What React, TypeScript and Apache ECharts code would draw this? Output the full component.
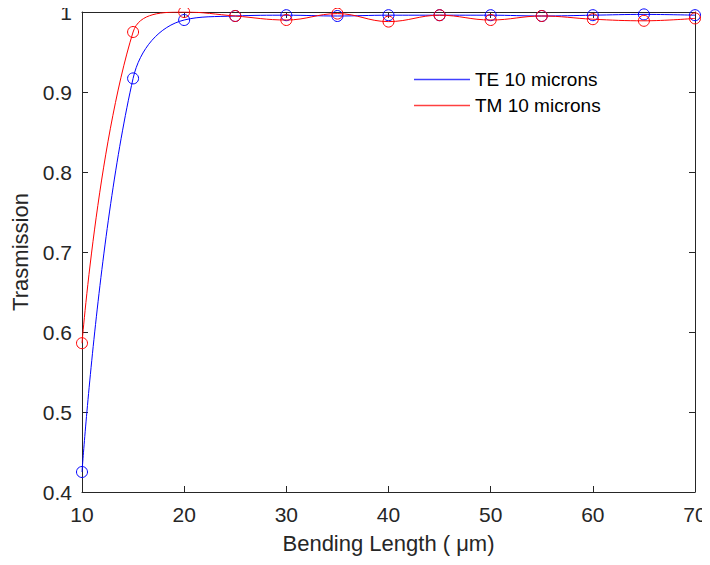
import React, { useEffect, useRef } from "react";
import * as echarts from "echarts";

const lengths = [10, 15, 20, 25, 30, 35, 40, 45, 50, 55, 60, 65, 70];
const teValues = [0.425, 0.917, 0.99, 0.995, 0.996, 0.995, 0.996, 0.996, 0.996, 0.995, 0.996, 0.997, 0.996];
const tmValues = [0.586, 0.975, 1.0, 0.995, 0.99, 0.998, 0.988, 0.996, 0.99, 0.995, 0.991, 0.989, 0.992];
const seriesNames = ["TE 10 microns", "TM 10 microns"];
const seriesColors = ["#0000ff", "#ff0000"];
const xTitle = "Bending Length ( μm)";
const yTitle = "Trasmission";

export default function App() {
  const ref = useRef<HTMLDivElement>(null);
  useEffect(() => {
    const chart = echarts.init(ref.current!, null, { renderer: "svg" });
    const font = "Liberation Sans, Arial, sans-serif";
    const axisColor = "#262626";
    const mk = (vals: number[]) => lengths.map((x, i) => [x, vals[i]]);
    chart.setOption({
      animation: false,
      grid: { left: 82, right: 15, top: 12, bottom: 73, containLabel: false },
      legend: {
        left: 409,
        top: 65,
        orient: "vertical",
        itemGap: 7,
        itemWidth: 56,
        itemHeight: 1.5,
        icon: "rect",
        textStyle: { fontFamily: font, fontSize: 19, color: "#000" },
        data: seriesNames.map((n, i) => ({
          name: n,
          icon: "rect",
          itemStyle: { color: seriesColors[i], borderWidth: 0, opacity: 0.75 },
        })),
      },
      xAxis: [
        {
          type: "value",
          min: 10,
          max: 70,
          interval: 10,
          name: xTitle,
          nameLocation: "middle",
          nameGap: 40,
          nameTextStyle: { fontFamily: font, fontSize: 22, color: axisColor },
          axisLine: { lineStyle: { color: axisColor, width: 1 } },
          axisTick: { inside: true, length: 6, lineStyle: { color: axisColor } },
          axisLabel: { fontFamily: font, fontSize: 21, color: axisColor, margin: 12 },
          splitLine: { show: false },
        },
        {
          type: "value",
          position: "top",
          min: 10,
          max: 70,
          interval: 10,
          axisLine: { show: true, lineStyle: { color: axisColor, width: 1 } },
          axisTick: { inside: true, length: 6, lineStyle: { color: axisColor } },
          axisLabel: { show: false },
          splitLine: { show: false },
        },
      ],
      yAxis: [
        {
          type: "value",
          min: 0.4,
          max: 1,
          interval: 0.1,
          name: yTitle,
          nameLocation: "middle",
          nameGap: 50,
          nameTextStyle: { fontFamily: font, fontSize: 22, color: axisColor },
          axisLine: { show: true, lineStyle: { color: axisColor, width: 1 } },
          axisTick: { show: true, inside: true, length: 6, lineStyle: { color: axisColor } },
          axisLabel: {
            fontFamily: font,
            fontSize: 21,
            color: axisColor,
            margin: 10,
            formatter: (v: number) => String(Math.round(v * 10) / 10),
          },
          splitLine: { show: false },
        },
        {
          type: "value",
          position: "right",
          min: 0.4,
          max: 1,
          interval: 0.1,
          axisLine: { show: true, lineStyle: { color: axisColor, width: 1 } },
          axisTick: { show: true, inside: true, length: 6, lineStyle: { color: axisColor } },
          axisLabel: { show: false },
          splitLine: { show: false },
        },
      ],
      series: [
        {
          name: seriesNames[0],
          type: "line",
          smooth: 0.4,
          data: mk(teValues),
          symbol: "circle",
          symbolSize: 11,
          showAllSymbol: true,
          lineStyle: { color: seriesColors[0], width: 1 },
          itemStyle: { color: "transparent", borderColor: seriesColors[0], borderWidth: 1 },
          z: 3,
        },
        {
          name: seriesNames[1],
          type: "line",
          smooth: 0.4,
          data: mk(tmValues),
          symbol: "circle",
          symbolSize: 11,
          showAllSymbol: true,
          lineStyle: { color: seriesColors[1], width: 1 },
          itemStyle: { color: "transparent", borderColor: seriesColors[1], borderWidth: 1 },
          z: 4,
        },
      ],
    });
    return () => chart.dispose();
  }, []);
  return <div ref={ref} style={{ width: 710, height: 565, margin: -8, background: "#fff" }} />;
}
